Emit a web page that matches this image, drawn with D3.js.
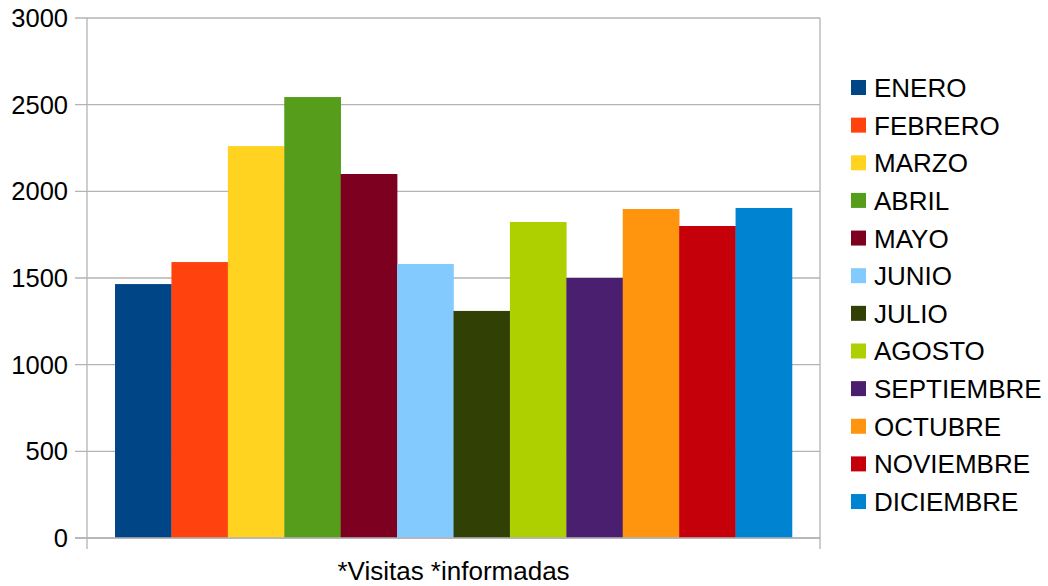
<!DOCTYPE html>
<meta charset="utf-8">
<style>
body { margin: 0; background: #fff; }
text { font-family: "Liberation Sans", Arial, sans-serif; fill: #000; }
</style>
<svg width="1048" height="586"></svg>
<script src="https://d3js.org/d3.v7.min.js"></script>
<script>
// months and visits
var months = ["ENERO", "FEBRERO", "MARZO", "ABRIL", "MAYO", "JUNIO",
              "JULIO", "AGOSTO", "SEPTIEMBRE", "OCTUBRE", "NOVIEMBRE", "DICIEMBRE"];
var visits = [1465, 1592, 2261, 2544, 2100, 1581, 1310, 1823, 1500, 1898, 1800, 1904];
var colors = ["#004586", "#ff420e", "#ffd320", "#579d1c", "#7e0021", "#83caff",
              "#314004", "#aecf00", "#4b1f6f", "#ff950e", "#c5000b", "#0084d1"];
var yTicks = [0, 500, 1000, 1500, 2000, 2500, 3000];
var xLabel = "*Visitas *informadas";

var svg = d3.select("svg");
var plotLeft = 87, plotRight = 820, plotTop = 18, plotBottom = 538;

var y = d3.scaleLinear().domain([0, 3000]).range([plotBottom, plotTop]);
// one category holding all twelve bars
var x0 = d3.scaleBand().domain([xLabel]).range([plotLeft, plotRight]).paddingInner(0).paddingOuter(0.0414);
var x1 = d3.scaleBand().domain(months).range([x0(xLabel), x0(xLabel) + x0.bandwidth()]);
var color = d3.scaleOrdinal().domain(months).range(colors);

//gridlines
svg.append("g")
  .selectAll("line")
  .data(yTicks)
  .enter().append("line")
    .attr("x1", plotLeft - 12)
    .attr("x2", plotRight)
    .attr("y1", function(d) { return y(d); })
    .attr("y2", function(d) { return y(d); })
    .style("stroke", "#b3b3b3")
    .style("stroke-width", 1.3);

//axis lines (left and right with small ticks below)
svg.append("line").attr("x1", plotLeft).attr("x2", plotLeft).attr("y1", plotTop).attr("y2", plotBottom + 11)
  .style("stroke", "#b3b3b3").style("stroke-width", 1.3);
svg.append("line").attr("x1", plotRight).attr("x2", plotRight).attr("y1", plotTop).attr("y2", plotBottom + 11)
  .style("stroke", "#b3b3b3").style("stroke-width", 1.3);

//y labels
svg.append("g")
  .selectAll("text")
  .data(yTicks)
  .enter().append("text")
    .attr("x", 68)
    .attr("y", function(d) { return y(d); })
    .attr("dy", "0.35em")
    .attr("text-anchor", "end")
    .style("font-size", "25.5px")
    .text(function(d) { return d; });

//bars
svg.append("g")
  .selectAll("rect")
  .data(months)
  .enter().append("rect")
    .attr("x", function(d) { return x1(d); })
    .attr("width", x1.bandwidth() + 0.3)
    .attr("y", function(d, i) { return y(visits[i]); })
    .attr("height", function(d, i) { return y(0) - y(visits[i]); })
    .style("fill", function(d) { return color(d); });

//redraw the zero line over bars
svg.append("line").attr("x1", plotLeft - 12).attr("x2", plotRight).attr("y1", y(0)).attr("y2", y(0))
  .style("stroke", "#b3b3b3").style("stroke-width", 1.3);

//category label
svg.append("text")
  .attr("x", x0(xLabel) + x0.bandwidth() / 2)
  .attr("y", 580)
  .attr("text-anchor", "middle")
  .style("font-size", "26px")
  .text(xLabel);

//legend
var legend = svg.append("g")
  .selectAll("g")
  .data(months)
  .enter().append("g")
    .attr("transform", function(d, i) { return "translate(851," + (88 + i * 37.64) + ")"; });

legend.append("rect")
  .attr("x", 0).attr("y", -8)
  .attr("width", 15).attr("height", 15)
  .style("fill", function(d) { return color(d); });

legend.append("text")
  .attr("x", 23)
  .attr("y", 9)
  .style("font-size", "26px")
  .text(function(d) { return d; });
</script>
